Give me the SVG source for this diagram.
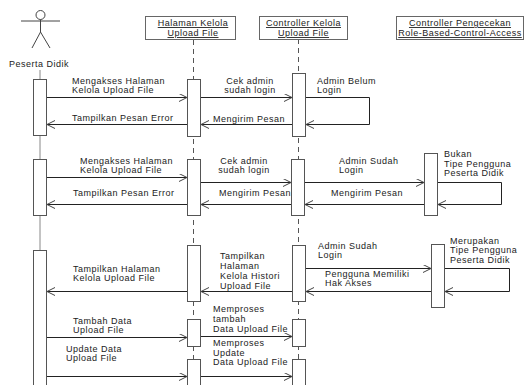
<svg xmlns="http://www.w3.org/2000/svg" width="524" height="385" viewBox="0 0 524 385">
<defs>
<marker id="ah" markerWidth="10" markerHeight="10" refX="9" refY="4" orient="auto" markerUnits="userSpaceOnUse">
<path d="M1,0 L9,4 L1,8" fill="none" stroke="#444" stroke-width="1"/>
</marker>
<style>
text{font-family:"Liberation Sans",Arial,sans-serif;font-size:9px;letter-spacing:0.5px;fill:#222}
.hd{text-anchor:middle;text-decoration:underline}
.hbox{fill:#fff;stroke:#666;stroke-width:1}
.act{fill:#fff;stroke:#555;stroke-width:1}
.ll{stroke:#555;stroke-width:1;stroke-dasharray:5,4;fill:none}
.msg{stroke:#222;stroke-width:1;fill:none;marker-end:url(#ah)}
.mid{text-anchor:middle}
</style>
</defs>
<rect width="524" height="385" fill="#fff"/>

<g id="lifelines">
<line x1="40" y1="70" x2="40" y2="385" stroke="#888" stroke-width="1"/>
<line class="ll" x1="193.5" y1="40" x2="193.5" y2="385"/>
<line class="ll" x1="298.5" y1="39" x2="298.5" y2="385"/>
</g>

<g id="actor-peserta-didik">
<circle cx="40.5" cy="15" r="4.5" fill="#fff" stroke="#444"/>
<line x1="40.5" y1="19.5" x2="40.5" y2="32" stroke="#444"/>
<line x1="21" y1="21" x2="60" y2="21" stroke="#444"/>
<line x1="40.5" y1="32" x2="32" y2="48" stroke="#444"/>
<line x1="40.5" y1="32" x2="50" y2="48" stroke="#444"/>
<text x="39" y="66.5" class="mid">Peserta Didik</text>
</g>

<g id="node-halaman">
<rect class="hbox" x="145.5" y="16.5" width="90" height="23"/>
<text class="hd" x="193" y="26">Halaman Kelola</text>
<text class="hd" x="193" y="36">Upload File</text>
</g>

<g id="node-controller-kelola">
<rect class="hbox" x="259.5" y="16.5" width="88" height="23"/>
<text class="hd" x="303.5" y="26">Controller Kelola</text>
<text class="hd" x="303.5" y="36">Upload File</text>
</g>

<g id="node-controller-rbac">
<rect class="hbox" x="396.5" y="16.5" width="127" height="23"/>
<text class="hd" x="460" y="26">Controller Pengecekan</text>
<text class="hd" x="460" y="36">Role-Based-Control-Access</text>
</g>

<g id="activations">
<rect class="act" x="33.5" y="79.5" width="13" height="56"/>
<rect class="act" x="33.5" y="159.5" width="13" height="56"/>
<rect class="act" x="33.5" y="250.5" width="13" height="140"/>

<rect class="act" x="187.5" y="79.5" width="13" height="57"/>
<rect class="act" x="187.5" y="159.5" width="13" height="56"/>
<rect class="act" x="187.5" y="245.5" width="13" height="56"/>
<rect class="act" x="187.5" y="319.5" width="13" height="27"/>
<rect class="act" x="187.5" y="359.5" width="13" height="30"/>

<rect class="act" x="292.5" y="73.5" width="13" height="63"/>
<rect class="act" x="291.5" y="159.5" width="13" height="56"/>
<rect class="act" x="292.5" y="245.5" width="13" height="56"/>
<rect class="act" x="292.5" y="319.5" width="13" height="27"/>
<rect class="act" x="292.5" y="359.5" width="13" height="30"/>

<rect class="act" x="424.5" y="153.5" width="13" height="62"/>
<rect class="act" x="431.5" y="244.5" width="13" height="63"/>
</g>

<g id="connectors">
<line class="msg" x1="47" y1="97.5" x2="187" y2="97.5"/>
<line class="msg" x1="201" y1="97.5" x2="292" y2="97.5"/>
<polyline class="msg" points="306,97.5 369.5,97.5 369.5,124.5 306,124.5"/>
<line class="msg" x1="292" y1="124.5" x2="201" y2="124.5"/>
<line class="msg" x1="187" y1="124.5" x2="47" y2="124.5"/>

<line class="msg" x1="47" y1="177.5" x2="187" y2="177.5"/>
<line class="msg" x1="201" y1="182.5" x2="291" y2="182.5"/>
<line class="msg" x1="305" y1="182.5" x2="424" y2="182.5"/>
<polyline class="msg" points="438,182.5 501.5,182.5 501.5,204.5 438,204.5"/>
<line class="msg" x1="424" y1="204.5" x2="305" y2="204.5"/>
<line class="msg" x1="291" y1="204.5" x2="201" y2="204.5"/>
<line class="msg" x1="187" y1="204.5" x2="47" y2="204.5"/>

<line class="msg" x1="306" y1="268.5" x2="431" y2="268.5"/>
<polyline class="msg" points="445,268.5 509.5,268.5 509.5,291.5 445,291.5"/>
<line class="msg" x1="431" y1="291.5" x2="306" y2="291.5"/>
<line class="msg" x1="292" y1="291.5" x2="201" y2="291.5"/>
<line class="msg" x1="187" y1="291.5" x2="47" y2="291.5"/>
<line class="msg" x1="47" y1="337.5" x2="187" y2="337.5"/>
<line class="msg" x1="201" y1="336.5" x2="292" y2="336.5"/>
<line class="msg" x1="47" y1="376.5" x2="187" y2="376.5"/>
<line class="msg" x1="201" y1="376.5" x2="292" y2="376.5"/>
</g>

<g id="labels">
<text x="72" y="84">Mengakses Halaman</text>
<text x="72" y="93">Kelola Upload File</text>
<text x="250" y="84" class="mid">Cek admin</text>
<text x="250" y="93" class="mid">sudah login</text>
<text x="317" y="84">Admin Belum</text>
<text x="317" y="93">Login</text>
<text x="72" y="121">Tampilkan Pesan Error</text>
<text x="213" y="122">Mengirim Pesan</text>

<text x="80" y="164">Mengakses Halaman</text>
<text x="80" y="173">Kelola Upload File</text>
<text x="244" y="164" class="mid">Cek admin</text>
<text x="244" y="173" class="mid">sudah login</text>
<text x="339" y="164">Admin Sudah</text>
<text x="339" y="173">Login</text>
<text x="444" y="157">Bukan</text>
<text x="444" y="166.5">Tipe Pengguna</text>
<text x="444" y="176">Peserta Didik</text>
<text x="331" y="196">Mengirim Pesan</text>
<text x="219" y="196">Mengirim Pesan</text>
<text x="73" y="196">Tampilkan Pesan Error</text>

<text x="318" y="249">Admin Sudah</text>
<text x="318" y="258">Login</text>
<text x="450" y="243.5">Merupakan</text>
<text x="450" y="253">Tipe Pengguna</text>
<text x="450" y="262.5">Peserta Didik</text>
<text x="325" y="277">Pengguna Memiliki</text>
<text x="325" y="286">Hak Akses</text>
<text x="220" y="259">Tampilkan</text>
<text x="220" y="269">Halaman</text>
<text x="220" y="279">Kelola Histori</text>
<text x="220" y="288.5">Upload File</text>
<text x="73" y="272">Tampilkan Halaman</text>
<text x="73" y="281">Kelola Upload File</text>
<text x="73" y="324">Tambah Data</text>
<text x="73" y="333">Upload File</text>
<text x="213" y="312">Memproses</text>
<text x="213" y="322">tambah</text>
<text x="213" y="332">Data Upload File</text>
<text x="66" y="352">Update Data</text>
<text x="66" y="361">Upload File</text>
<text x="213" y="346">Memproses</text>
<text x="213" y="355.5">Update</text>
<text x="213" y="365">Data Upload File</text>
</g>
</svg>
